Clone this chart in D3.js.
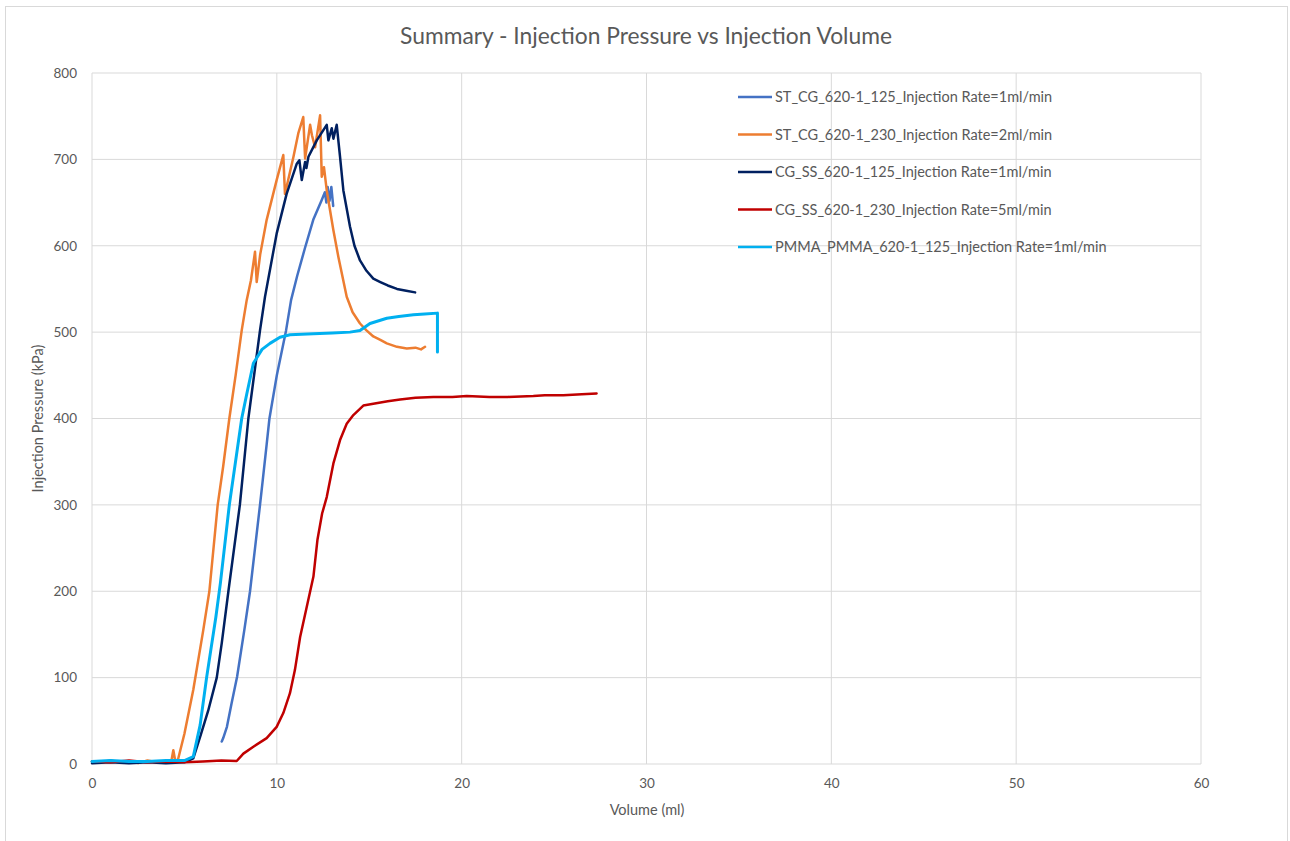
<!DOCTYPE html>
<html>
<head>
<meta charset="utf-8">
<script src="https://cdn.jsdelivr.net/npm/d3@7"></script>
<style>
    body { margin: 0; background: #fff; }
    text { font-family: Lato, "Open Sans", sans-serif; fill: #595959; }
</style>
</head>
<body>
<div id="chart"></div>
<script>
// series names shown in the legend
var seriesNames = [
    'ST_CG_620-1_125_Injection Rate=1ml/min',
    'ST_CG_620-1_230_Injection Rate=2ml/min',
    'CG_SS_620-1_125_Injection Rate=1ml/min',
    'CG_SS_620-1_230_Injection Rate=5ml/min',
    'PMMA_PMMA_620-1_125_Injection Rate=1ml/min'
];
var seriesColors = ['#4472C4', '#ED7D31', '#002060', '#C00000', '#00B0F0'];

// [volume ml, pressure kPa]
var stCg125 = [
    [7.02, 26], [7.1, 30], [7.3, 43], [7.55, 70], [7.85, 101], [8.24, 155], [8.55, 200],
    [8.82, 250], [9.09, 300], [9.24, 329], [9.45, 370], [9.6, 400], [10.0, 450],
    [10.5, 502], [10.77, 537], [11.1, 565], [11.53, 598], [11.97, 630], [12.43, 653],
    [12.6, 662], [12.68, 650], [12.75, 668], [12.85, 652], [12.95, 668], [13.05, 646]
];
var stCg230 = [
    [0, 3], [0.5, 2], [1, 4], [1.5, 2], [2, 3], [2.5, 1], [3, 4], [3.5, 2], [4, 3],
    [4.3, 4], [4.4, 16], [4.5, 4], [4.65, 5], [5.0, 35], [5.48, 86], [6.02, 155],
    [6.35, 200], [6.8, 300], [7.1, 345], [7.43, 400], [7.77, 450], [8.1, 502],
    [8.37, 537], [8.6, 560], [8.82, 593], [8.91, 558], [9.1, 590], [9.45, 630],
    [9.99, 676], [10.35, 705], [10.44, 660], [10.9, 703], [11.16, 730], [11.43, 749],
    [11.53, 701], [11.8, 740], [11.9, 728], [12.07, 714], [12.34, 751], [12.43, 680],
    [12.55, 691], [12.7, 664], [13.06, 618], [13.33, 587], [13.78, 541], [14.1, 523],
    [14.5, 510], [14.85, 502], [15.22, 495], [15.6, 491], [15.95, 487], [16.5, 483],
    [17.03, 481], [17.5, 482], [17.8, 480], [18.02, 483]
];
var cgSs125 = [
    [0, 1], [1, 2], [2, 1], [3, 2], [4, 1], [5, 2], [5.48, 6.5], [5.9, 35], [6.29, 62],
    [6.75, 100], [7.02, 140], [7.38, 200], [8.0, 300], [8.46, 400], [9.09, 502],
    [9.36, 541], [9.99, 614], [10.53, 660], [11.08, 695], [11.22, 699], [11.35, 676],
    [11.53, 697], [11.6, 690], [11.71, 703], [12.16, 722], [12.7, 740], [12.79, 722],
    [12.97, 736], [13.06, 724], [13.24, 740], [13.42, 703], [13.6, 664], [13.96, 622],
    [14.2, 600], [14.5, 583], [14.85, 571], [15.22, 562], [15.6, 558], [16.0, 554],
    [16.5, 550], [17.0, 548], [17.48, 546]
];
var cgSs230 = [
    [0, 3], [1, 2], [2, 4], [3, 2], [4, 3], [5, 2], [6, 3], [7, 4], [7.83, 3.5],
    [8.19, 12], [8.73, 20], [9.45, 30], [9.99, 43], [10.35, 59], [10.71, 82],
    [10.98, 109], [11.26, 147], [11.62, 182], [11.98, 217], [12.2, 260], [12.45, 290],
    [12.7, 309], [13.06, 348], [13.42, 375], [13.78, 394], [14.14, 404], [14.68, 415],
    [15.22, 417], [16.0, 420], [16.67, 422], [17.5, 424], [18.47, 425], [19.5, 425],
    [20.27, 426], [21.5, 425], [22.5, 425], [23.88, 426], [24.5, 427], [25.5, 427],
    [26.5, 428], [27.3, 429]
];
var pmma125 = [
    [0, 3], [1, 4], [2, 3], [3, 3], [4, 4], [5, 4], [5.48, 8.5], [5.85, 45], [6.2, 100],
    [6.45, 135], [6.7, 170], [6.95, 210], [7.43, 300], [8.1, 400], [8.37, 428],
    [8.73, 464], [9.2, 480], [9.63, 487], [10.17, 494], [10.71, 497], [11.98, 498],
    [13.0, 499], [13.96, 500], [14.5, 502], [15.04, 510], [15.95, 516], [16.6, 518],
    [17.39, 520], [18.0, 521], [18.69, 522], [18.69, 477]
];
var seriesData = [stCg125, stCg230, cgSs125, cgSs230, pmma125];
var seriesWidths = [2.5, 2.5, 2.5, 2.5, 3];

var xTicks = [0, 10, 20, 30, 40, 50, 60];
var yTicks = [0, 100, 200, 300, 400, 500, 600, 700, 800];

var width = 1290;
var height = 841;
var plot = { left: 92, right: 1201, top: 73, bottom: 764 };

var svg = d3.select('#chart').append('svg')
    .attr('width', width)
    .attr('height', height);

// chart frame
svg.append('rect')
    .attr('x', 5.5)
    .attr('y', 6.5)
    .attr('width', 1282)
    .attr('height', 850)
    .attr('fill', '#fff')
    .attr('stroke', '#d9d9d9')
    .attr('stroke-width', 1);

var x = d3.scaleLinear().domain([0, 60]).range([plot.left, plot.right]);
var y = d3.scaleLinear().domain([0, 800]).range([plot.bottom, plot.top]);

// grid lines
svg.append('g')
    .selectAll('line.vgrid')
    .data(xTicks)
    .enter().append('line')
    .attr('x1', function(d) { return x(d); })
    .attr('x2', function(d) { return x(d); })
    .attr('y1', plot.top)
    .attr('y2', plot.bottom)
    .attr('stroke', '#d9d9d9')
    .attr('stroke-width', 1);

svg.append('g')
    .selectAll('line.hgrid')
    .data(yTicks)
    .enter().append('line')
    .attr('x1', plot.left)
    .attr('x2', plot.right)
    .attr('y1', function(d) { return y(d); })
    .attr('y2', function(d) { return y(d); })
    .attr('stroke', '#d9d9d9')
    .attr('stroke-width', 1);

// axes (labels only, lines come from the grid)
var xAxis = svg.append('g')
    .attr('transform', 'translate(0,' + plot.bottom + ')')
    .call(d3.axisBottom(x).tickValues(xTicks).tickSize(0).tickPadding(14));
xAxis.select('.domain').remove();
xAxis.selectAll('text')
    .style('font-size', '13.5px')
    .style('font-family', 'Lato, sans-serif')
    .attr('fill', '#595959');

var yAxis = svg.append('g')
    .attr('transform', 'translate(' + plot.left + ',0)')
    .call(d3.axisLeft(y).tickValues(yTicks).tickSize(0).tickPadding(15));
yAxis.select('.domain').remove();
yAxis.selectAll('text')
    .style('font-size', '13.5px')
    .style('font-family', 'Lato, sans-serif')
    .attr('fill', '#595959');

// series
var line = d3.line()
    .x(function(d) { return x(d[0]); })
    .y(function(d) { return y(d[1]); });

var plotArea = svg.append('g');
seriesData.forEach(function(data, i) {
    plotArea.append('path')
        .datum(data)
        .attr('d', line)
        .attr('fill', 'none')
        .attr('stroke', seriesColors[i])
        .attr('stroke-width', seriesWidths[i])
        .attr('stroke-linejoin', 'round')
        .attr('stroke-linecap', 'round');
});

// title and axis titles
svg.append('text')
    .attr('x', 646)
    .attr('y', 44)
    .attr('text-anchor', 'middle')
    .style('font-size', '22.8px')
    .text('Summary - Injection Pressure vs Injection Volume');

svg.append('text')
    .attr('x', 647)
    .attr('y', 815)
    .attr('text-anchor', 'middle')
    .style('font-size', '14.5px')
    .text('Volume (ml)');

svg.append('text')
    .attr('transform', 'translate(43,' + ((plot.top + plot.bottom) / 2) + ') rotate(-90)')
    .attr('text-anchor', 'middle')
    .style('font-size', '14.5px')
    .text('Injection Pressure (kPa)');

// legend
var legend = svg.append('g');
seriesNames.forEach(function(name, i) {
    var ly = 97 + i * 37.5;
    legend.append('line')
        .attr('x1', 738)
        .attr('x2', 772)
        .attr('y1', ly)
        .attr('y2', ly)
        .attr('stroke', seriesColors[i])
        .attr('stroke-width', 2.5);
    legend.append('text')
        .attr('x', 775)
        .attr('y', ly + 5)
        .style('font-size', '14.5px')
        .text(name);
});
</script>
</body>
</html>
